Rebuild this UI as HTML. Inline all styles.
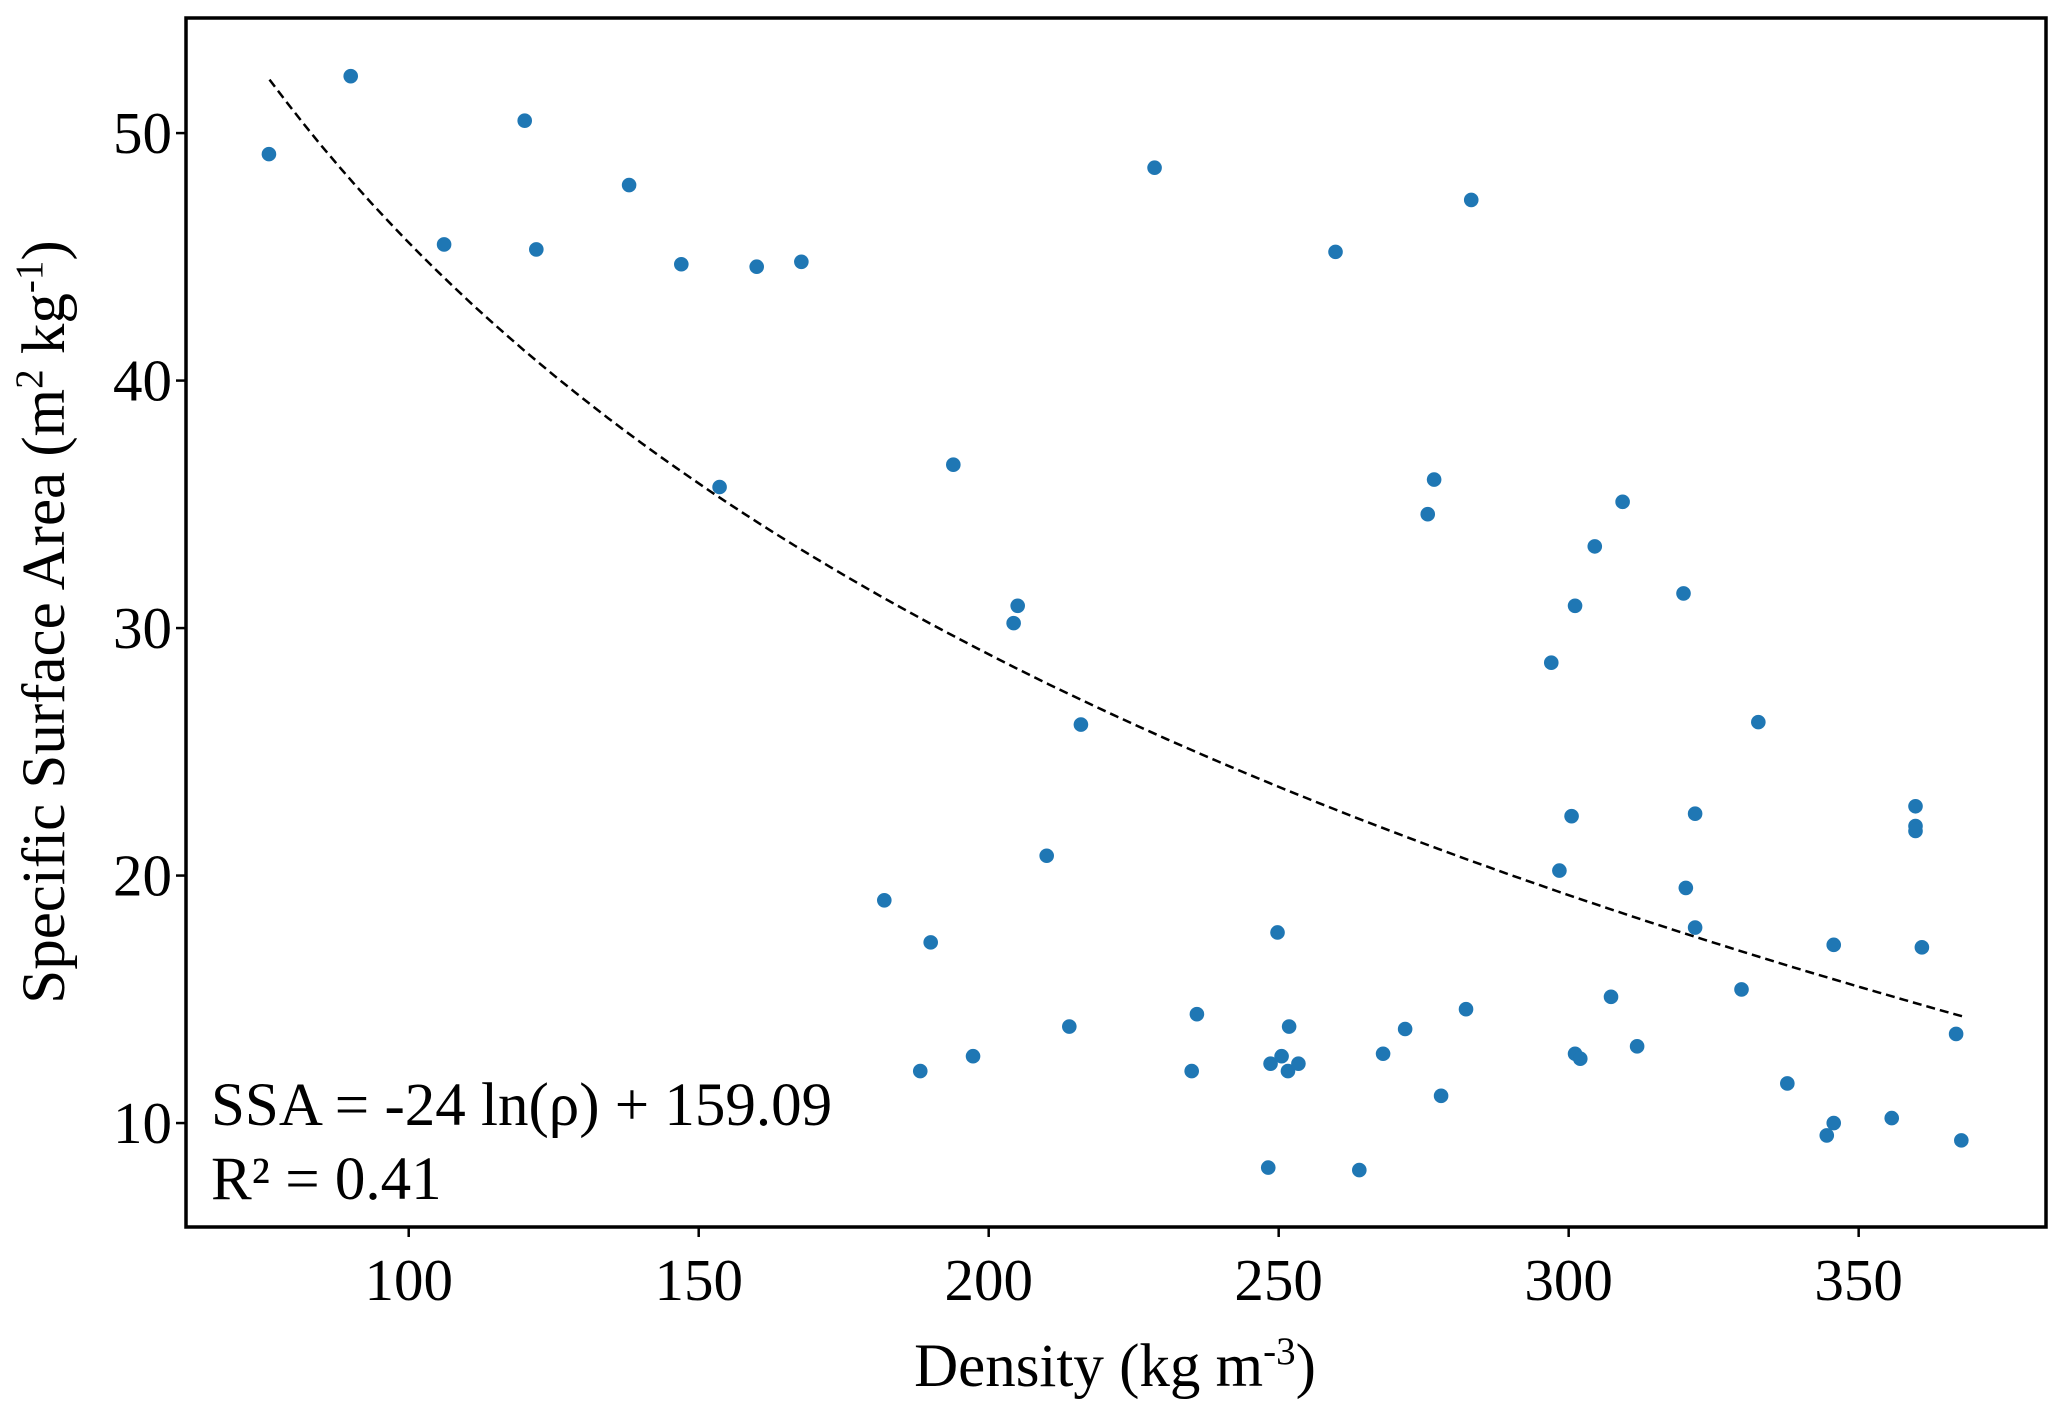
<!DOCTYPE html>
<html><head><meta charset="utf-8"><style>
body{margin:0;background:#fff}
svg text{font-family:"Liberation Serif",serif;fill:#000}
</style></head><body>
<svg id="chart" width="2067" height="1417" xmlns="http://www.w3.org/2000/svg">
<rect width="2067" height="1417" fill="#fff"/>
<g id="fit"></g>
<g id="pts"></g>
<g id="axes"></g>
<text x="211" y="1125" font-size="61">SSA = -24 ln(ρ) + 159.09</text>
<text x="211" y="1199" font-size="61">R² = 0.41</text>
<text x="1115" y="1386" font-size="61" text-anchor="middle">Density (kg m<tspan dy="-22" font-size="39">-3</tspan><tspan dy="22">)</tspan></text>
<text transform="translate(64,622) rotate(-90)" font-size="61" text-anchor="middle">Specific Surface Area (m<tspan dy="-22" font-size="39">2</tspan><tspan dy="22"> kg</tspan><tspan dy="-22" font-size="39">-1</tspan><tspan dy="22">)</tspan></text>
</svg>
<script>
const densities=[75.9,90,106.1,120,122,138,147,160,167.7,153.6,193.9,205,204.3,215.9,228.6,210,182,190,188.2,197.3,213.9,235,235.9,249.8,248.2,248.6,250.5,251.8,251.6,253.4,259.8,263.9,268,271.8,276.8,275.7,283.2,282.3,278,297,298.4,300.5,301.1,301.1,302,304.5,309.3,307.3,311.8,319.8,320.2,321.8,321.8,329.8,332.7,337.7,344.5,345.7,345.7,355.7,359.8,359.8,359.8,360.9,366.8,367.7];
const ssaValues=[49.15,52.3,45.5,50.5,45.3,47.9,44.7,44.6,44.8,35.7,36.6,30.9,30.2,26.1,48.6,20.8,19.0,17.3,12.1,12.7,13.9,12.1,14.4,17.7,8.2,12.4,12.7,13.9,12.1,12.4,45.2,8.1,12.8,13.8,36.0,34.6,47.3,14.6,11.1,28.6,20.2,22.4,30.9,12.8,12.6,33.3,35.1,15.1,13.1,31.4,19.5,22.5,17.9,15.4,26.2,11.6,9.5,10.0,17.2,10.2,22.8,22.0,21.8,17.1,13.6,9.3];
const xTicks=[100,150,200,250,300,350];
const yTicks=[10,20,30,40,50];
const fitA=-24, fitB=156.1, fitStart=76, fitEnd=368;
const NS="http://www.w3.org/2000/svg";
const L=186,R=2046,T=18,B=1227, xMin=61.6,xMax=382.3,yMin=5.8,yMax=54.65;
const xs=v=>L+(v-xMin)/(xMax-xMin)*(R-L);
const ys=v=>B-(v-yMin)/(yMax-yMin)*(B-T);
function mk(t,a,p){const e=document.createElementNS(NS,t);for(const k in a)e.setAttribute(k,a[k]);p.appendChild(e);return e;}
const fit=document.getElementById('fit');
let d='';for(let i=0;i<=100;i++){const v=fitStart+(fitEnd-fitStart)*i/100;const y=fitA*Math.log(v)+fitB;d+=(i?'L':'M')+xs(v).toFixed(1)+','+ys(y).toFixed(1);}
const fp=mk('path',{d:d,fill:'none',stroke:'#000','stroke-width':2.5,'stroke-dasharray':'9,5'},fit);


const pts=document.getElementById('pts');
densities.forEach((v,i)=>{const c=mk('circle',{cx:xs(v),cy:ys(ssaValues[i]),r:7.3,fill:'#1f77b4'},pts);

});
const ax=document.getElementById('axes');
const fr=mk('rect',{x:L,y:T,width:R-L,height:B-T,fill:'none',stroke:'#000','stroke-width':3.5},ax);


xTicks.forEach(v=>{const x=xs(v);mk('line',{x1:x,x2:x,y1:B,y2:B+10,stroke:'#000','stroke-width':2.5},ax);
const t=mk('text',{x:x,y:1300,'font-size':59,'text-anchor':'middle'},ax);t.textContent=v;

});
yTicks.forEach(v=>{const y=ys(v);mk('line',{x1:L-10,x2:L,y1:y,y2:y,stroke:'#000','stroke-width':2.5},ax);
const t=mk('text',{x:172,y:y+20,'font-size':59,'text-anchor':'end'},ax);t.textContent=v;

});
</script>
</body></html>
